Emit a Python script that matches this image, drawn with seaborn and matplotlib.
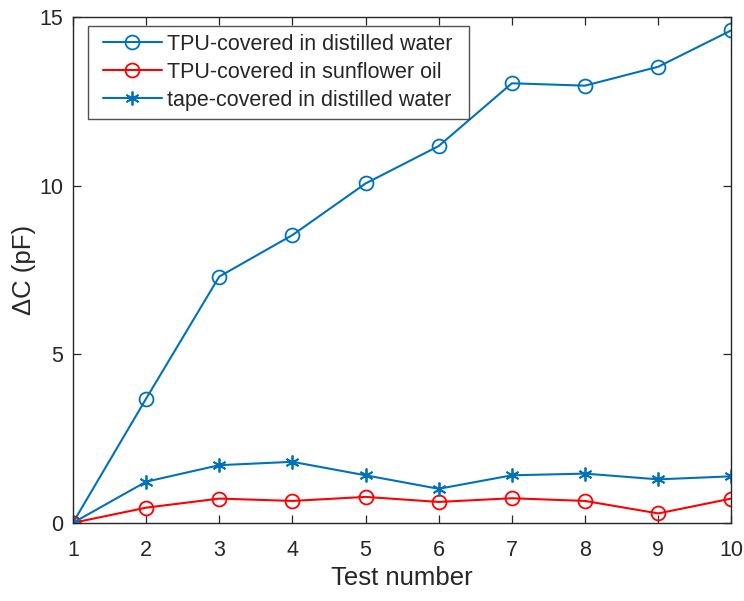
import matplotlib
matplotlib.use("Agg")
import matplotlib.pyplot as plt
from matplotlib.lines import Line2D
from matplotlib.legend_handler import HandlerLine2D
import seaborn as sns
import pandas as pd

test_number = [1, 2, 3, 4, 5, 6, 7, 8, 9, 10]
tpu_water = [0, 3.68, 7.30, 8.53, 10.06, 11.17, 13.03, 12.96, 13.52, 14.60]
tpu_oil = [0, 0.45, 0.72, 0.65, 0.77, 0.62, 0.73, 0.65, 0.28, 0.72]
tape_water = [0, 1.22, 1.71, 1.81, 1.41, 1.01, 1.41, 1.46, 1.29, 1.38]
labels = ["TPU-covered in distilled water", "TPU-covered in sunflower oil",
          "tape-covered in distilled water"]
x_ticks = [1, 2, 3, 4, 5, 6, 7, 8, 9, 10]
y_ticks = [0, 5, 10, 15]

sns.set_theme(style="white")
plt.rcParams['font.family'] = ['Liberation Sans', 'DejaVu Sans']

fig = plt.figure(figsize=(7.44, 6.01), dpi=100)
ax = fig.add_axes([0.098, 0.130, 0.885, 0.842])

blue = "#0072BD"
red = "#FF0000"
dark = "#262626"

sns.lineplot(x=test_number, y=tpu_water, ax=ax, color=blue, marker="o",
             markersize=10, markerfacecolor="none", markeredgecolor=blue,
             markeredgewidth=1.3, linewidth=1.5, label=labels[0])
sns.lineplot(x=test_number, y=tpu_oil, ax=ax, color=red, marker="o",
             markersize=10, markerfacecolor="none", markeredgecolor=red,
             markeredgewidth=1.3, linewidth=1.5, label=labels[1])
sns.lineplot(x=test_number, y=tape_water, ax=ax, color=blue, marker=(6, 2, 0),
             markersize=10, markeredgecolor=blue, markeredgewidth=1.3,
             linewidth=1.5, label=labels[2])

ax.set_xlim(1, 10)
ax.set_ylim(0, 15)
ax.set_xticks(x_ticks)
ax.set_yticks(y_ticks)
ax.tick_params(direction="in", length=6, width=0.9, colors=dark,
               labelsize=15.5, top=True, right=True, bottom=True, left=True)
ax.tick_params(axis="x", pad=12)
ax.tick_params(axis="y", pad=7)
for s in ax.spines.values():
    s.set_color(dark)
    s.set_linewidth(1.0)
    s.set_visible(True)

ax.set_xlabel("Test number", fontsize=18.5, color=dark, labelpad=4)
ax.set_ylabel("ΔC (pF)", fontsize=18.5, color=dark, labelpad=2)

handles, lbls = ax.get_legend_handles_labels()
leg = ax.legend(handles, lbls, loc="upper left", fontsize=15.5, frameon=True,
                fancybox=False, edgecolor=dark, handlelength=3.05,
                borderpad=0.37, labelspacing=0.32, handletextpad=0.23,
                bbox_to_anchor=(0.0228, 0.5, 0.578, 0.482), mode="expand",
                borderaxespad=0.0,
                handler_map={Line2D: HandlerLine2D(xpad=0.31)})
leg.get_frame().set_linewidth(1.0)
for t in leg.get_texts():
    t.set_color(dark)

fig.savefig("out.png", dpi=100)
